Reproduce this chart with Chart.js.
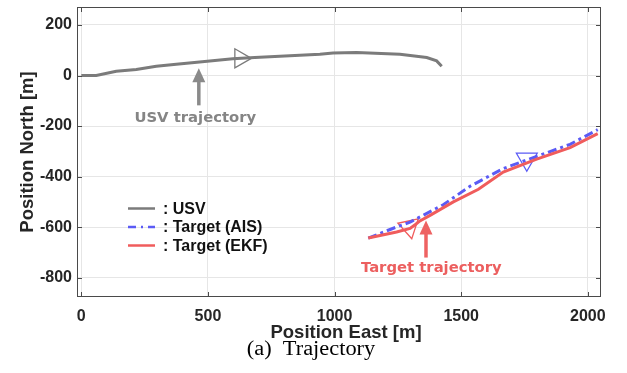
<!DOCTYPE html>
<html>
<head>
<meta charset="utf-8">
<script src="https://cdn.jsdelivr.net/npm/chart.js@4"></script>
<style>
  html, body { margin: 0; padding: 0; background: #ffffff; }
  #wrap { position: relative; width: 627px; height: 373px; }
</style>
</head>
<body>
<div id="wrap"><canvas id="c" width="627" height="373"></canvas></div>
<script>
// ---- data ----
const usvEast  = [0, 59, 138, 217, 296, 375, 467, 598, 685, 863, 942, 994, 1087, 1258, 1364, 1403, 1423];
const usvNorth = [0, 0, 17, 24, 37, 45, 53, 66, 71, 80, 84, 89, 91, 84, 71, 58, 37];
const aisEast  = [1133, 1232, 1298, 1429, 1535, 1666, 1798, 1930, 2039];
const aisNorth = [-643, -604, -580, -511, -438, -368, -320, -272, -214];
const ekfEast  = [1133, 1245, 1298, 1318, 1337, 1377, 1469, 1568, 1666, 1798, 1930, 2039];
const ekfNorth = [-643, -619, -605, -590, -575, -553, -500, -450, -382, -331, -285, -230];
// direction markers
const usvMarkEast = [628];  const usvMarkNorth = [68];
const aisMarkEast = [1759]; const aisMarkNorth = [-331];
const ekfMarkEast = [1295]; const ekfMarkNorth = [-599];
// axes
const xTicks = [0, 500, 1000, 1500, 2000];
const yTicks = [-800, -600, -400, -200, 0, 200];
const xRange = [-17, 2052];
const yRange = [-876, 271];
const legendLabels = [': USV', ': Target (AIS)', ': Target (EKF)'];
const xTitle = 'Position East [m]';
const yTitle = 'Position North [m]';
const caption = '(a)  Trajectory';
const usvNote = 'USV trajectory';
const targetNote = 'Target trajectory';

const zip = (xs, ys) => xs.map((x, i) => ({ x: x, y: ys[i] }));

const C_USV = '#7b7b7b';
const C_AIS = '#5b5bf5';
const C_EKF = '#f05c5c';
const SANS = "'Liberation Sans', Arial, sans-serif";
const NOTE = "'DejaVu Sans', Verdana, sans-serif";

const decor = {
  id: 'decor',
  afterDraw(chart) {
    const ctx = chart.ctx;
    const a = chart.chartArea;
    const xs = chart.scales.x, ys = chart.scales.y;
    ctx.save();
    // box
    ctx.strokeStyle = '#4a4a4a';
    ctx.lineWidth = 1;
    ctx.strokeRect(Math.round(a.left) + 0.5, Math.round(a.top) + 0.5,
                   Math.round(a.right - a.left) - 1, Math.round(a.bottom - a.top) - 1);
    // inward ticks
    const tl = 5;
    ctx.beginPath();
    xTicks.forEach(v => {
      const px = Math.round(xs.getPixelForValue(v)) + 0.5;
      ctx.moveTo(px, a.bottom); ctx.lineTo(px, a.bottom - tl);
      ctx.moveTo(px, a.top); ctx.lineTo(px, a.top + tl);
    });
    yTicks.forEach(v => {
      const py = Math.round(ys.getPixelForValue(v)) + 0.5;
      ctx.moveTo(a.left, py); ctx.lineTo(a.left + tl, py);
      ctx.moveTo(a.right, py); ctx.lineTo(a.right - tl, py);
    });
    ctx.stroke();

    // arrows (data-anchored)
    function arrow(xv, yTip, yBase, color) {
      const px = xs.getPixelForValue(xv);
      const pt = ys.getPixelForValue(yTip);
      const pb = ys.getPixelForValue(yBase);
      const hh = 14, hw = 6.5;
      ctx.strokeStyle = color; ctx.fillStyle = color;
      ctx.lineWidth = 3.5;
      ctx.beginPath(); ctx.moveTo(px, pb); ctx.lineTo(px, pt + hh - 1); ctx.stroke();
      ctx.beginPath();
      ctx.moveTo(px, pt); ctx.lineTo(px - hw, pt + hh); ctx.lineTo(px + hw, pt + hh);
      ctx.closePath(); ctx.fill();
    }
    arrow(464, 29, -118, '#8a8a8a');
    arrow(1361, -573, -720, '#ee6262');

    // notes
    ctx.font = "bold 14.8px " + NOTE;
    ctx.textAlign = 'center'; ctx.textBaseline = 'alphabetic';
    ctx.fillStyle = '#858585';
    ctx.fillText(usvNote, xs.getPixelForValue(450), ys.getPixelForValue(-184));
    ctx.fillStyle = '#ec5f5f';
    ctx.fillText(targetNote, xs.getPixelForValue(1382), ys.getPixelForValue(-779));

    // legend
    const lx = a.left + 51, ly = [208.5, 227, 245.5];
    const styles = [
      { c: C_USV, d: [] },
      { c: C_AIS, d: [8, 5, 2, 5] },
      { c: C_EKF, d: [] }
    ];
    ctx.textAlign = 'left'; ctx.textBaseline = 'middle';
    ctx.font = "bold 16px " + SANS;
    legendLabels.forEach((t, i) => {
      ctx.strokeStyle = styles[i].c; ctx.lineWidth = 2.5;
      ctx.setLineDash(styles[i].d);
      ctx.beginPath(); ctx.moveTo(lx, ly[i]); ctx.lineTo(lx + 27, ly[i]); ctx.stroke();
      ctx.setLineDash([]);
      ctx.fillStyle = '#111111';
      ctx.fillText(t, lx + 35, ly[i] + 1);
    });

    // axis titles
    ctx.fillStyle = '#262626';
    ctx.font = "bold 18.5px " + SANS;
    ctx.textAlign = 'center'; ctx.textBaseline = 'alphabetic';
    ctx.fillText(xTitle, 346, 338);
    ctx.save();
    ctx.translate(32.5, 152);
    ctx.rotate(-Math.PI / 2);
    ctx.fillText(yTitle, 0, 0);
    ctx.restore();

    // caption
    ctx.fillStyle = '#000000';
    ctx.font = "20px 'Liberation Serif', 'Times New Roman', serif";
    ctx.save();
    ctx.translate(311, 355);
    ctx.scale(1.12, 1);
    ctx.fillText(caption, 0, 0);
    ctx.restore();
    ctx.restore();
  }
};

function lineSet(label, xs, ys, color, dash) {
  return {
    label: label, data: zip(xs, ys), showLine: true, borderColor: color,
    borderWidth: 3, borderDash: dash, pointRadius: 0, tension: 0, fill: false
  };
}
function markSet(xs, ys, color, rot, r) {
  return {
    data: zip(xs, ys), showLine: false, pointStyle: 'triangle', rotation: rot,
    pointRadius: r, borderColor: color, backgroundColor: 'rgba(0,0,0,0)',
    pointBorderWidth: 1.3, borderWidth: 1.3
  };
}

const noPad = s => { s.paddingTop = 0; s.paddingBottom = 0; s.paddingLeft = 0; s.paddingRight = 0; };

new Chart(document.getElementById('c'), {
  type: 'scatter',
  data: {
    datasets: [
      lineSet('USV', usvEast, usvNorth, C_USV, []),
      lineSet('Target (EKF)', ekfEast, ekfNorth, C_EKF, []),
      lineSet('Target (AIS)', aisEast, aisNorth, C_AIS, [9, 4, 3, 4]),
      markSet(usvMarkEast, usvMarkNorth, C_USV, 90, 11),
      markSet(aisMarkEast, aisMarkNorth, C_AIS, 180, 12),
      markSet(ekfMarkEast, ekfMarkNorth, C_EKF, 168, 12)
    ]
  },
  options: {
    responsive: false,
    animation: false,
    events: [],
    layout: { autoPadding: false, padding: { left: 0, right: 26, top: 7, bottom: 0 } },
    plugins: { legend: { display: false }, tooltip: { enabled: false } },
    scales: {
      x: {
        type: 'linear', min: xRange[0], max: xRange[1],
        afterFit: s => { s.height = 76; noPad(s); },
        afterBuildTicks: s => { s.ticks = xTicks.map(v => ({ value: v })); },
        grid: { color: '#e6e6e6', drawTicks: false, lineWidth: 1 },
        border: { display: false },
        ticks: { padding: 10, color: '#262626', callback: v => String(v),
                 font: { family: SANS, size: 16, weight: 'bold' } }
      },
      y: {
        type: 'linear', min: yRange[0], max: yRange[1],
        afterFit: s => { s.width = 77; noPad(s); },
        afterBuildTicks: s => { s.ticks = yTicks.map(v => ({ value: v })); },
        grid: { color: '#e6e6e6', drawTicks: false, lineWidth: 1 },
        border: { display: false },
        ticks: { padding: 5, color: '#262626', callback: v => String(v),
                 font: { family: SANS, size: 16, weight: 'bold' } }
      }
    }
  },
  plugins: [decor]
});
</script>
</body>
</html>
